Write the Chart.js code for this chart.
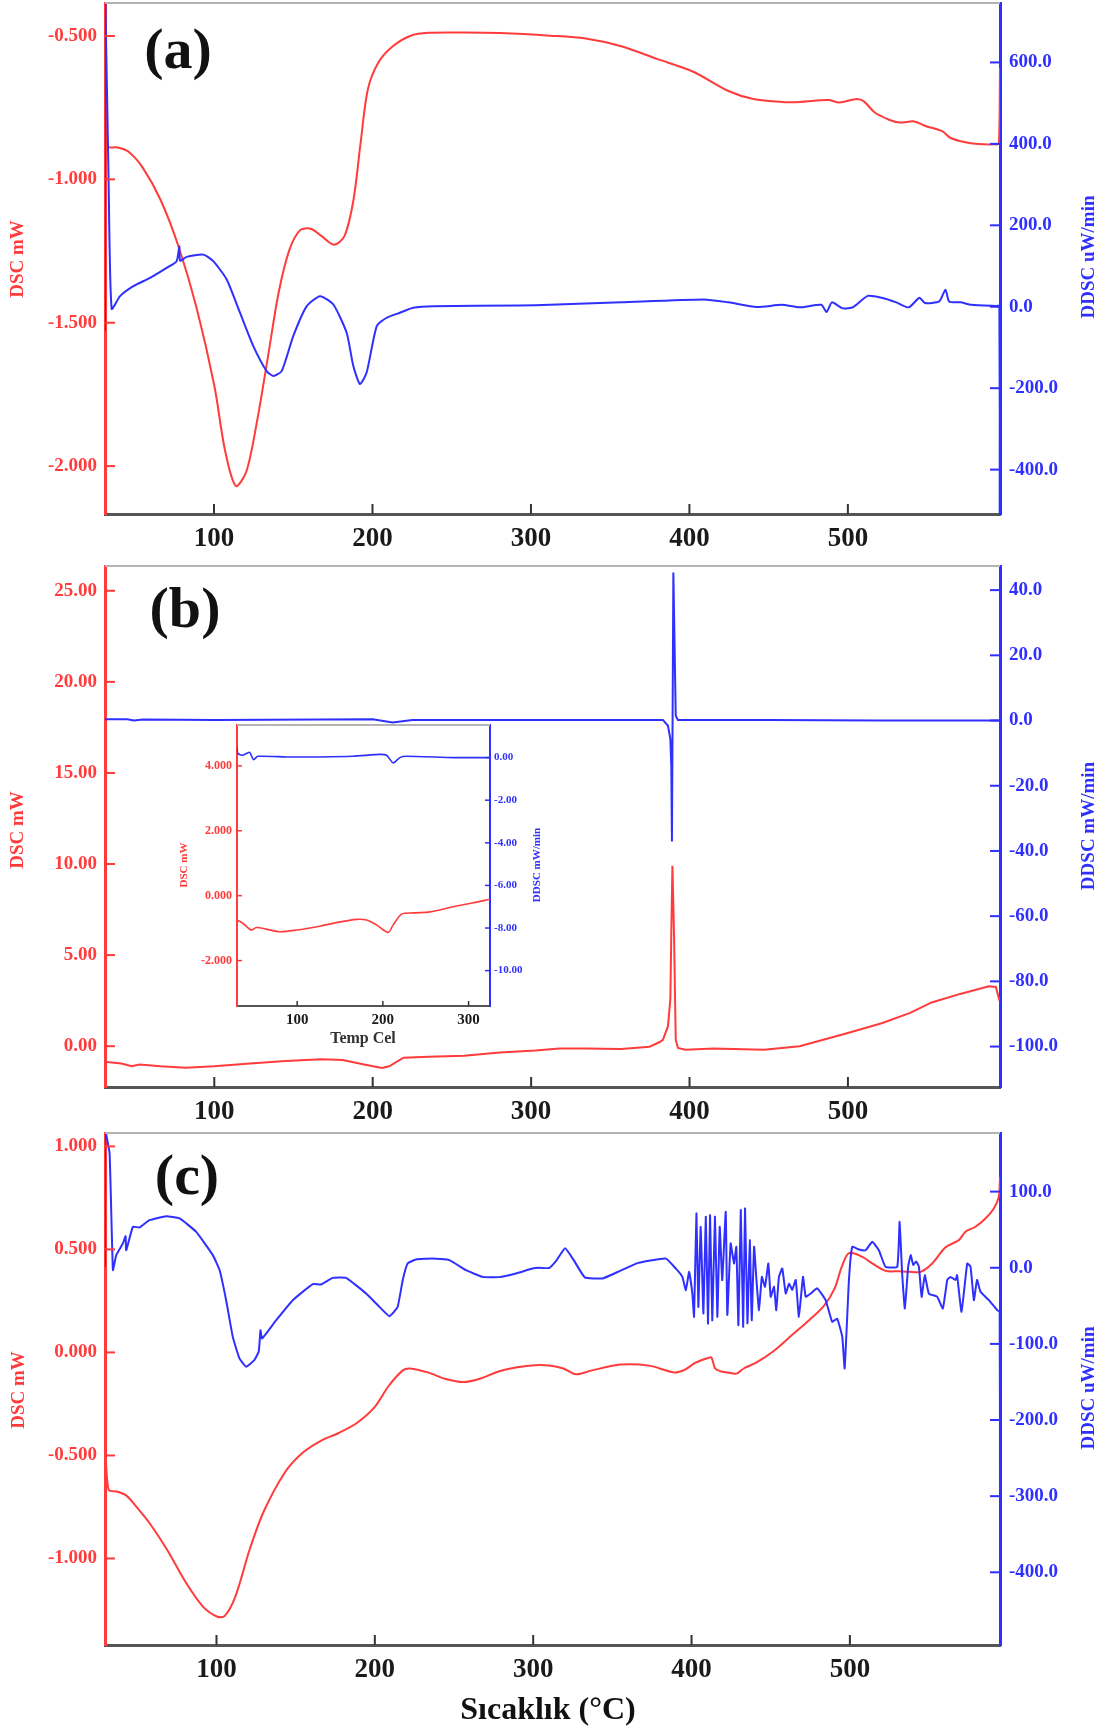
<!DOCTYPE html>
<html>
<head>
<meta charset="utf-8">
<script src="https://cdn.jsdelivr.net/npm/chart.js@4.4.1/dist/chart.umd.min.js"></script>
<style>
  body { margin: 0; background: #fff; }
  #wrap { position: relative; width: 1110px; height: 1733px; }
  canvas { position: absolute; left: 0; }
</style>
</head>
<body>
<div id="wrap">
  <canvas id="chartA" width="1110" height="560" style="top:0"></canvas>
  <canvas id="chartB" width="1110" height="560" style="top:560px"></canvas>
  <canvas id="chartC" width="1110" height="613" style="top:1120px"></canvas>
  <canvas id="inset" width="390" height="340" style="left:170px;top:715px"></canvas>
</div>
<script>
const RED = '#ff3b3b';
const BLUE = '#2f2fff';
const xTicks = [100, 200, 300, 400, 500];

// (a)
const aDscT = [31.2, 32, 39.3, 46.1, 55.1, 66.3, 77.6, 88.9, 100.2, 106.9, 113.7, 120.4, 127.1, 134, 140.7, 147.5, 154.2, 161, 167.7, 175.6, 182.4, 188, 192.5, 197.1, 203.8, 212.8, 224.1, 235.4, 258, 280.4, 312, 334.5, 357, 379.5, 402.1, 424.6, 440.4, 458.3, 469.7, 487.7, 494.5, 505.7, 510.3, 517, 526, 532.8, 541.8, 548.5, 559.8, 564.3, 573.3, 582.4, 592.5, 595.3, 596];
const aDscV = [-0.80, -0.885, -0.889, -0.904, -0.96, -1.072, -1.234, -1.446, -1.72, -1.944, -2.069, -2.019, -1.845, -1.62, -1.397, -1.247, -1.178, -1.172, -1.197, -1.228, -1.197, -1.072, -0.873, -0.686, -0.592, -0.536, -0.499, -0.489, -0.488, -0.49, -0.499, -0.509, -0.536, -0.58, -0.624, -0.692, -0.72, -0.73, -0.73, -0.723, -0.732, -0.72, -0.729, -0.767, -0.792, -0.802, -0.798, -0.813, -0.833, -0.854, -0.87, -0.877, -0.878, -0.875, -0.611];
const aDdscT = [31.2, 31.3, 33.5, 35.4, 40.7, 49.1, 59.6, 70.1, 76.4, 78.1, 78.6, 82.7, 93.2, 99.5, 108, 116.4, 124.8, 133.2, 137.4, 142.7, 150, 158.5, 166.9, 175.3, 183.7, 187.9, 192.1, 196.3, 202.7, 209, 217.3, 225.7, 238.3, 293, 312, 357, 408.9, 424.6, 442.5, 458.3, 469.6, 483.2, 486.6, 489.9, 496.7, 503.4, 512.5, 521.4, 530.5, 538.4, 545.2, 548.6, 557.6, 561.6, 563.9, 571.1, 577.9, 593.6, 595.6, 595.8];
const aDdscV = [-60, 760, 300, -5, 26, 50.5, 71, 95.6, 112, 148.5, 113, 122.5, 128, 112, 67, -14.7, -96.5, -158, -170, -158, -72, 1.5, 26, 5.6, -64, -145.6, -190, -161.7, -47.5, -27, -14.7, -2.4, 1.5, 3, 4.7, 10.8, 18, 10.8, -0.7, 4.7, -1.5, 4.7, -12.7, 10.8, -4, -0.7, 26.7, 22, 10.8, -1.5, 22, 9, 13, 42, 13, 10.8, 4.7, 2, 2, -515];
const aLeftTicks = [-0.5, -1.0, -1.5, -2.0];
const aRightTicks = [600, 400, 200, 0, -200, -400];

// (b)
const bDscT = [31, 32.3, 41.3, 48, 52.6, 66.1, 81.9, 99.9, 122.5, 145, 167.5, 181.1, 194.6, 205.8, 210.4, 219.4, 235.2, 257.7, 280.2, 302.7, 318, 334.3, 356.8, 374.8, 381.2, 383.2, 386.4, 387.9, 388.5, 389.2, 390.2, 391.3, 392.7, 397.4, 415.4, 447, 469.5, 498.8, 521.3, 539.3, 552.8, 570.9, 588.9, 593.4, 595.7];
const bDscV = [-0.85, -0.87, -0.95, -1.1, -1.0, -1.1, -1.18, -1.1, -0.95, -0.81, -0.72, -0.76, -1.0, -1.2, -1.1, -0.63, -0.58, -0.53, -0.34, -0.23, -0.12, -0.12, -0.15, -0.03, 0.23, 0.35, 1.1, 2.58, 6.2, 9.9, 6.2, 0.35, -0.1, -0.19, -0.12, -0.19, 0.0, 0.70, 1.26, 1.83, 2.4, 2.87, 3.29, 3.25, 2.5];
const bDdscT = [31, 45, 49.3, 55, 100, 200, 212.6, 225, 300, 383.2, 386.4, 387.9, 388.5, 388.9, 389.8, 391.3, 392.7, 450, 520, 596];
const bDdscV = [0.4, 0.4, 0, 0.3, 0.2, 0.4, -0.6, 0.2, 0.2, 0.2, -1.6, -5.7, -13.9, -37.1, 45.4, 1.45, 0.2, 0.2, 0.0, 0.0];
const bLeftTicks = [25, 20, 15, 10, 5, 0];
const bRightTicks = [40, 20, 0, -20, -40, -60, -80, -100];

// (b) inset
const iDscT = [29.8, 36.6, 46.4, 52.3, 63.9, 79.5, 99, 126.3, 145.8, 169.2, 180.9, 192.6, 206.2, 212, 221.9, 235.4, 255, 282.2, 305.6, 325];
const iDscV = [-0.75, -0.85, -1.06, -0.98, -1.03, -1.11, -1.06, -0.94, -0.83, -0.73, -0.75, -0.9, -1.13, -0.9, -0.57, -0.53, -0.5, -0.34, -0.22, -0.11];
const iDdscT = [29.8, 30.7, 36.6, 44.4, 49.1, 54.1, 87.3, 126.3, 165.2, 196.5, 204.3, 212, 219.9, 227.7, 282.2, 325];
const iDdscV = [0.5, 0.19, 0.11, 0.25, -0.1, 0.06, 0.03, 0.03, 0.06, 0.15, 0.11, -0.25, 0, 0.06, 0, 0];
const iXTicks = [100, 200, 300];
const iLeftTicks = [4, 2, 0, -2];
const iRightTicks = [0, -2, -4, -6, -8, -10];

// (c)
const cDscT = [29.6, 31.8, 37.5, 43.1, 48.7, 57.7, 69, 80.3, 91.6, 100.6, 105.1, 111.8, 120.8, 129.9, 143.4, 154.6, 165.9, 177.2, 188.4, 199.7, 208.7, 217.7, 222.2, 233.5, 244.8, 256, 267.3, 278.6, 289.9, 301.1, 310.1, 319.1, 327, 337.2, 355.2, 373.2, 389, 395.7, 402.5, 410.4, 412.6, 414.9, 418.2, 422.8, 428.4, 432.9, 440.8, 452.1, 463.4, 474.6, 483.6, 490.4, 494.9, 499.4, 507.8, 514.1, 522.5, 530.9, 537.3, 544.6, 552, 560.4, 568.8, 573, 579.3, 585.6, 590.9, 594, 594.8];
const cDscV = [-0.372, -0.666, -0.676, -0.695, -0.742, -0.828, -0.96, -1.112, -1.235, -1.283, -1.28, -1.188, -0.96, -0.771, -0.58, -0.486, -0.429, -0.391, -0.344, -0.267, -0.163, -0.087, -0.078, -0.097, -0.129, -0.144, -0.125, -0.091, -0.072, -0.062, -0.064, -0.078, -0.106, -0.087, -0.059, -0.064, -0.097, -0.084, -0.05, -0.027, -0.025, -0.078, -0.091, -0.097, -0.103, -0.078, -0.05, 0.008, 0.084, 0.159, 0.226, 0.311, 0.416, 0.482, 0.464, 0.432, 0.396, 0.394, 0.391, 0.391, 0.432, 0.51, 0.545, 0.586, 0.61, 0.65, 0.699, 0.755, 0.852];
const cDdscT = [29.6, 29.7, 32.5, 34.6, 36.7, 40.9, 42.6, 43, 47.2, 51.4, 57.7, 68.3, 76.7, 87.2, 97.7, 102, 106.1, 110.3, 114.5, 118.7, 124, 126.7, 127.8, 128.8, 137.7, 148.2, 160.8, 166, 173.4, 181.8, 194.5, 202.9, 209.2, 214.4, 217.6, 220.7, 226, 236.5, 247, 257.5, 268.1, 278.6, 289.1, 299.6, 303.8, 310.1, 314.5, 320.2, 325.9, 332.6, 343.9, 355.2, 366.4, 383.7, 390, 394.2, 396.4, 398.5, 400.5, 401.6, 403.1, 404.3, 405.8, 407.5, 409, 410.4, 411.7, 413.1, 414.8, 416.3, 417.8, 419.4, 421.6, 422.6, 424.7, 426.8, 428.3, 429.6, 431.1, 432.6, 433.8, 435.3, 436.8, 438, 439.5, 441, 442.6, 444.4, 446.4, 448.5, 450, 452.1, 453.5, 455.2, 457.3, 459.5, 461.6, 463.6, 465.8, 467.8, 470.4, 472.1, 475.2, 479.4, 484.7, 488.8, 492, 495.2, 496.7, 499.4, 501.5, 505.7, 509.9, 514.1, 518.3, 522.5, 529.9, 531.4, 533, 534.7, 536.8, 538.4, 540, 541.9, 543.6, 545.3, 547.3, 549.9, 555.1, 558.7, 561.5, 563.5, 566.7, 567.7, 570.5, 574.1, 576.2, 578.3, 580.3, 582.5, 587.8, 593, 594.6, 594.8];
const cDdscV = [1, 180, 150, -3, 16.6, 32, 41.5, 23, 53.7, 53, 62.5, 67.8, 64.8, 47.2, 16.6, -3.2, -42.6, -90.8, -119, -130, -121, -110, -82, -92.8, -68.9, -42.6, -21.5, -22, -13.3, -13.3, -33.8, -51.4, -63.6, -51.4, -16.3, 5.6, 10.9, 12.2, 10, -3.2, -12, -12.3, -7.5, -1, 0, -0.3, 9, 25.5, 9, -12.6, -14, -3.8, 6.4, 12.2, -0.9, -12, -29.4, -5.4, -33.8, -64.5, 71.4, -51.4, 53.7, -60, 67, -73.2, 69, -69, 67, -64.5, 53.7, -16.3, 73.5, -62, 32, 5.6, 27.5, -75.4, 75.7, -77.6, 77.9, -73, 36.3, -69, 27.5, -16.3, -55.7, -12, -25, 5.6, -38.2, -25, -55.7, -12, -0.9, -33.8, -21, -29, -16, -64.5, -12, -38, -34, -27, -42.6, -71, -67, -90.8, -132.2, -16.3, 27.5, 24, 23, 34, 23, 1.2, 1.2, 60.3, -7.5, -53.5, 1.2, 16.6, 3.8, 8.4, 1.2, -38.2, -9.7, -34, -38, -53.5, -16, -12, -16, -9.7, -57.9, 5.6, 1.2, -42.6, -16, -31.6, -42.6, -55.7, -58, -330];
const cLeftTicks = [1.0, 0.5, 0, -0.5, -1.0];
const cRightTicks = [100, 0, -100, -200, -300, -400];

Chart.defaults.font.family = "'Liberation Serif', 'DejaVu Serif', serif";

function pts(t, v) {
  return t.map((x, i) => ({ x: x, y: v[i] }));
}

function line(ctx, x1, y1, x2, y2) {
  ctx.beginPath();
  ctx.moveTo(x1, y1);
  ctx.lineTo(x2, y2);
  ctx.stroke();
}

function drawText(ctx, t) {
  ctx.save();
  ctx.translate(t.x, t.y);
  if (t.rot) ctx.rotate(-Math.PI / 2);
  ctx.font = 'bold ' + t.size + 'px ' + Chart.defaults.font.family;
  ctx.fillStyle = t.color;
  ctx.textAlign = 'center';
  ctx.textBaseline = 'middle';
  ctx.fillText(t.text, 0, 0);
  ctx.restore();
}

function deco(p) {
  return {
    id: 'deco',
    beforeDraw(chart) {
      if (!p.whiteArea) return;
      const a = chart.chartArea;
      chart.ctx.save();
      chart.ctx.fillStyle = '#fff';
      chart.ctx.fillRect(a.left, a.top, a.right - a.left, a.bottom - a.top);
      chart.ctx.restore();
    },
    afterDraw(chart) {
      const ctx = chart.ctx, a = chart.chartArea, s = chart.scales;
      const tk = p.tickLen;
      ctx.save();
      ctx.lineWidth = p.topW;
      ctx.strokeStyle = '#b4b4b4';
      line(ctx, a.left, a.top, a.right, a.top);
      ctx.lineWidth = p.tickW;
      ctx.strokeStyle = '#333';
      s.x.ticks.forEach(t => {
        const x = s.x.getPixelForValue(t.value);
        line(ctx, x, a.bottom, x, a.bottom - tk);
      });
      ctx.strokeStyle = RED;
      s.y.ticks.forEach(t => {
        const y = s.y.getPixelForValue(t.value);
        line(ctx, a.left, y, a.left + tk, y);
      });
      ctx.strokeStyle = BLUE;
      s.y1.ticks.forEach(t => {
        const y = s.y1.getPixelForValue(t.value);
        line(ctx, a.right - tk, y, a.right, y);
      });
      p.texts.forEach(t => drawText(ctx, t));
      ctx.restore();
    }
  };
}

function noPad(s) {
  s.paddingTop = 0; s.paddingBottom = 0; s.paddingLeft = 0; s.paddingRight = 0;
}

function makeChart(id, p) {
  new Chart(document.getElementById(id), {
    type: 'line',
    data: {
      datasets: [
        { data: pts(p.ddscT, p.ddscV), yAxisID: 'y1', borderColor: BLUE, borderWidth: p.lineW, pointRadius: 0, tension: p.blueTension },
        { data: pts(p.dscT, p.dscV), yAxisID: 'y', borderColor: RED, borderWidth: p.lineW, pointRadius: 0, tension: p.redTension },
      ],
    },
    options: {
      responsive: false,
      animation: false,
      events: [],
      layout: { padding: { top: p.padTop, left: 0, right: 0, bottom: 0 } },
      plugins: { legend: { display: false }, tooltip: { enabled: false } },
      scales: {
        x: {
          type: 'linear',
          min: p.xMin,
          max: p.xMax,
          grid: { display: false, drawTicks: false },
          border: { color: '#555', width: p.axisW },
          ticks: { color: '#1a1a1a', font: { size: p.xFont, weight: 'bold' }, padding: p.xPad, maxRotation: 0, autoSkip: false },
          afterBuildTicks: s => { s.ticks = p.xTicks.map(v => ({ value: v })); },
          afterFit: s => { s.height = p.xHeight; noPad(s); },
        },
        y: {
          position: 'left',
          min: p.yMin,
          max: p.yMax,
          grid: { display: false, drawTicks: false },
          border: { color: RED, width: p.axisW },
          ticks: {
            color: RED,
            font: { size: p.lFont, weight: 'bold' },
            padding: p.lPad,
            callback: v => v.toFixed(p.lDec),
          },
          afterBuildTicks: s => { s.ticks = p.lTicks.map(v => ({ value: v })); },
          afterFit: s => { s.width = p.lWidth; noPad(s); },
        },
        y1: {
          position: 'right',
          min: p.y1Min,
          max: p.y1Max,
          grid: { display: false, drawTicks: false },
          border: { color: BLUE, width: p.axisW },
          ticks: {
            color: BLUE,
            font: { size: p.rFont, weight: 'bold' },
            padding: p.rPad,
            callback: v => v.toFixed(p.rDec),
          },
          afterBuildTicks: s => { s.ticks = p.rTicks.map(v => ({ value: v })); },
          afterFit: s => { s.width = p.rWidth; noPad(s); },
        },
      },
    },
    plugins: [deco(p)],
  });
}

const mainStyle = {
  xTicks: xTicks, lineW: 2, axisW: 3, topW: 2, tickW: 2, tickLen: 10,
  xFont: 27, xPad: 9, lFont: 19, rFont: 19, lPad: 8, rPad: 9,
  lWidth: 105, rWidth: 110, whiteArea: false,
};

makeChart('chartA', Object.assign({}, mainStyle, {
  dscT: aDscT, dscV: aDscV, ddscT: aDdscT, ddscV: aDdscV,
  redTension: 0.3, blueTension: 0.2,
  padTop: 3, xHeight: 46, xMin: 31.2, xMax: 596,
  yMin: -2.167, yMax: -0.385, y1Min: -509, y1Max: 746,
  lTicks: aLeftTicks, rTicks: aRightTicks, lDec: 3, rDec: 1,
  texts: [
    { text: '(a)', x: 178, y: 53, size: 58, color: '#111' },
    { text: 'DSC mW', x: 18, y: 259, size: 19, color: RED, rot: true },
    { text: 'DDSC uW/min', x: 1089, y: 257, size: 19, color: BLUE, rot: true },
  ],
}));

makeChart('chartB', Object.assign({}, mainStyle, {
  dscT: bDscT, dscV: bDscV, ddscT: bDdscT, ddscV: bDdscV,
  redTension: 0, blueTension: 0,
  padTop: 6, xHeight: 33, xMin: 31, xMax: 596,
  yMin: -2.24, yMax: 26.36, y1Min: -112.4, y1Max: 47.4,
  lTicks: bLeftTicks, rTicks: bRightTicks, lDec: 2, rDec: 1,
  texts: [
    { text: '(b)', x: 185, y: 52, size: 58, color: '#111' },
    { text: 'DSC mW', x: 18, y: 270, size: 19, color: RED, rot: true },
    { text: 'DDSC mW/min', x: 1089, y: 266, size: 19, color: BLUE, rot: true },
  ],
}));

makeChart('chartC', Object.assign({}, mainStyle, {
  dscT: cDscT, dscV: cDscV, ddscT: cDdscT, ddscV: cDdscV,
  redTension: 0.3, blueTension: 0.12,
  padTop: 13, xHeight: 88, xMin: 29.6, xMax: 594.8,
  yMin: -1.42, yMax: 1.065, y1Min: -495.5, y1Max: 177,
  lTicks: cLeftTicks, rTicks: cRightTicks, lDec: 3, rDec: 1,
  texts: [
    { text: '(c)', x: 187, y: 59, size: 58, color: '#111' },
    { text: 'DSC mW', x: 19, y: 270, size: 19, color: RED, rot: true },
    { text: 'DDSC uW/min', x: 1089, y: 268, size: 19, color: BLUE, rot: true },
    { text: 'Sıcaklık (°C)', x: 548, y: 591, size: 32, color: '#111' },
  ],
}));

makeChart('inset', {
  dscT: iDscT, dscV: iDscV, ddscT: iDdscT, ddscV: iDdscV,
  redTension: 0.3, blueTension: 0.2,
  xTicks: iXTicks, lineW: 1.6, axisW: 2, topW: 2, tickW: 1.5, tickLen: 5,
  xFont: 15, xPad: 5, lFont: 12, rFont: 11, lPad: 5, rPad: 4,
  lWidth: 67, rWidth: 70, whiteArea: true,
  padTop: 10, xHeight: 49, xMin: 29.8, xMax: 325,
  yMin: -3.4, yMax: 5.26, y1Min: -11.66, y1Max: 1.53,
  lTicks: iLeftTicks, rTicks: iRightTicks, lDec: 3, rDec: 2,
  texts: [
    { text: 'Temp Cel', x: 193, y: 324, size: 16, color: '#333' },
    { text: 'DSC mW', x: 14, y: 150, size: 11, color: RED, rot: true },
    { text: 'DDSC mW/min', x: 367, y: 150, size: 11, color: BLUE, rot: true },
  ],
});
</script>
</body>
</html>
